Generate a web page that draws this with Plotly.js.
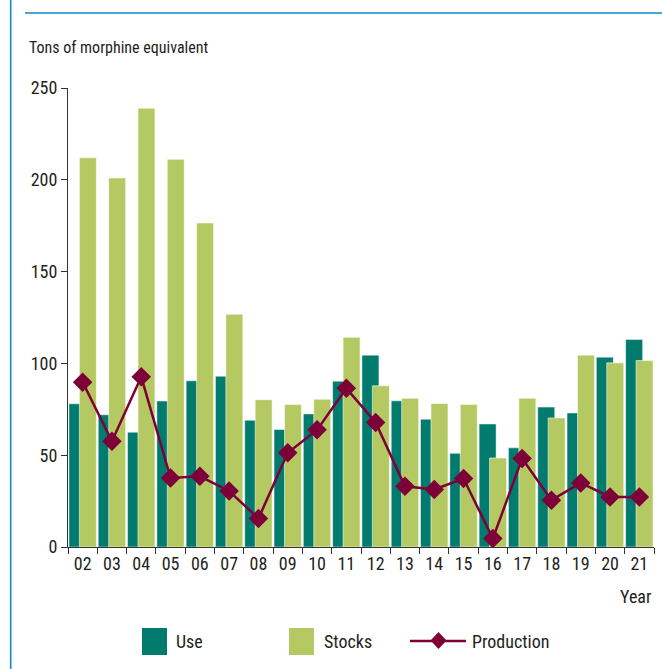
<!DOCTYPE html>
<html>
<head>
<meta charset="utf-8">
<script src="https://cdn.plot.ly/plotly-3.0.1.min.js"></script>
<style>html,body{margin:0;padding:0;background:#fff;}#chart{width:662px;height:669px;}</style>
</head>
<body>
<div id="chart"></div>
<script>
const years = ["02","03","04","05","06","07","08","09","10","11","12","13","14","15","16","17","18","19","20","21"];
const useVals = [78, 72, 62.5, 79.5, 90.5, 93, 69, 64, 72.5, 90.3, 104.5, 79.6, 69.6, 51, 67, 54, 76.2, 73, 103.4, 113];
const stocksVals = [212, 201, 239, 211.2, 176.5, 126.8, 80.2, 77.6, 80.5, 114.2, 87.8, 81, 78.2, 77.6, 48.5, 81, 70.3, 104.5, 100.3, 101.6];
const productionVals = [89.8, 57.6, 92.7, 37.6, 38.5, 30.5, 15.5, 51.3, 63.8, 86.4, 67.8, 33.1, 31.3, 37.3, 4.6, 48.2, 25.5, 34.9, 27.3, 27.3];
const yTicks = [0, 50, 100, 150, 200, 250];

const FONT = '"Liberation Sans Narrow", "Roboto Condensed", "Arial Narrow", Roboto, sans-serif';
const TXT = '#231f20';
const cUse = '#007b6e', cStocks = '#b5c962', cProd = '#7d0038', cBlue = '#1188c4';

const n = years.length;
const traces = [
  {type:'bar', name:'Use', x:years, y:useVals, width:Array(n).fill(0.58), offset:Array(n).fill(-0.468),
   marker:{color:cUse, line:{color:'rgba(255,255,255,0.6)', width:0.8}}, hoverinfo:'y'},
  {type:'bar', name:'Stocks', x:years, y:stocksVals, width:Array(n).fill(0.58), offset:Array(n).fill(-0.112),
   marker:{color:cStocks, line:{color:'rgba(255,255,255,0.7)', width:0.8}}, hoverinfo:'y'},
  {type:'scatter', mode:'lines+markers', name:'Production', x:years, y:productionVals,
   line:{color:cProd, width:2.5}, marker:{symbol:'diamond', size:15, color:cProd}}
];

const px2x = p => (p-68)/586, px2y = p => (547-p)/459;

const shapes = [
  {type:'line', xref:'paper', yref:'paper', x0:px2x(10.7), x1:px2x(10.7), y0:px2y(0), y1:px2y(669), line:{color:cBlue, width:1.6}},
  {type:'line', xref:'paper', yref:'paper', x0:px2x(25), x1:px2x(662), y0:px2y(13), y1:px2y(13), line:{color:cBlue, width:1.6}},
  {type:'rect', xref:'paper', yref:'paper', x0:px2x(142), x1:px2x(167), y0:px2y(655), y1:px2y(628), fillcolor:cUse, line:{width:0}},
  {type:'rect', xref:'paper', yref:'paper', x0:px2x(289), x1:px2x(314), y0:px2y(655), y1:px2y(628), fillcolor:cStocks, line:{width:0}},
  {type:'line', xref:'paper', yref:'paper', x0:px2x(410), x1:px2x(466), y0:px2y(641), y1:px2y(641), line:{color:cProd, width:2.5}},
  {type:'path', xref:'paper', yref:'paper',
   path:`M ${px2x(438.5)},${px2y(632)} L ${px2x(446.5)},${px2y(640.5)} L ${px2x(438.5)},${px2y(649)} L ${px2x(430.5)},${px2y(640.5)} Z`,
   fillcolor:cProd, line:{width:0}}
];

const annotations = [
  {xref:'paper', yref:'paper', x:px2x(27), y:px2y(48), xanchor:'left', yanchor:'middle', showarrow:false,
   text:'Tons of morphine equivalent', font:{family:FONT, size:16, color:TXT}},
  {xref:'paper', yref:'paper', x:px2x(654), y:px2y(596), xanchor:'right', yanchor:'middle', showarrow:false,
   text:'Year', font:{family:FONT, size:18, color:TXT}},
  {xref:'paper', yref:'paper', x:px2x(174), y:px2y(641), xanchor:'left', yanchor:'middle', showarrow:false,
   text:'Use', font:{family:FONT, size:18, color:TXT}},
  {xref:'paper', yref:'paper', x:px2x(322), y:px2y(641), xanchor:'left', yanchor:'middle', showarrow:false,
   text:'Stocks', font:{family:FONT, size:18, color:TXT}},
  {xref:'paper', yref:'paper', x:px2x(470), y:px2y(641), xanchor:'left', yanchor:'middle', showarrow:false,
   text:'Production', font:{family:FONT, size:18, color:TXT}}
];

const layout = {
  width:662, height:669,
  margin:{l:68, r:8, t:88, b:122},
  paper_bgcolor:'#fff', plot_bgcolor:'#fff',
  barmode:'overlay', showlegend:false,
  font:{family:FONT, color:TXT, size:18},
  xaxis:{type:'category', range:[-0.5, n-0.5], showgrid:false, zeroline:false,
         showline:true, linecolor:'#333', linewidth:1, ticks:'outside', ticklen:6, tickcolor:'#333',
         tickson:'boundaries', tickfont:{family:FONT, size:18, color:TXT}, fixedrange:true},
  yaxis:{range:[0,250], tickvals:yTicks, showgrid:false, zeroline:false,
         showline:true, linecolor:'#333', linewidth:1, ticks:'outside', ticklen:6, tickcolor:'#333',
         tickfont:{family:FONT, size:18, color:TXT}, fixedrange:true},
  shapes:shapes, annotations:annotations
};

Plotly.newPlot('chart', traces, layout, {displayModeBar:false, staticPlot:true});
</script>
</body>
</html>
